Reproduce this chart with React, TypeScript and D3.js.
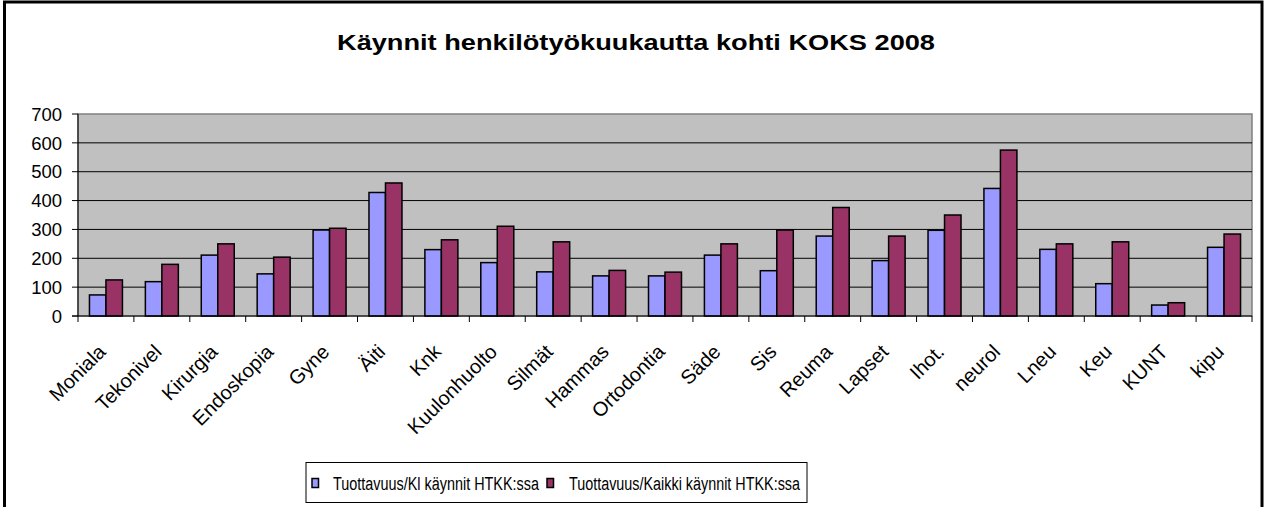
import React from "react";
import * as d3 from "d3";

const categories = ["Moniala","Tekonivel","Kirurgia","Endoskopia","Gyne","Äiti","Knk","Kuulonhuolto","Silmät","Hammas","Ortodontia","Säde","Sis","Reuma","Lapset","Ihot.","neurol","Lneu","Keu","KUNT","kipu"];
const klValues = [73,119,211,146,298,428,230,185,153,139,139,211,157,277,192,297,442,231,112,38,238];
const kaikkiValues = [125,179,250,204,304,461,264,311,257,158,152,250,298,376,277,350,575,250,257,46,284];
const seriesNames = ["Tuottavuus/Kl käynnit HTKK:ssa","Tuottavuus/Kaikki käynnit HTKK:ssa"];
const yTicks = [0,100,200,300,400,500,600,700];
const title = "Käynnit henkilötyökuukautta kohti KOKS 2008";

const colors = ["#9999FF", "#993366"];
const font = "Arial, 'Liberation Sans', sans-serif";

export default function App() {
  const W = 1266, H = 507;
  const left = 78, right = 1252, top = 114, bottom = 316;
  const x = d3.scaleBand<string>().domain(categories).range([left, right]);
  const y = d3.scaleLinear().domain([0, 700]).range([bottom, top]);
  const barW = x.bandwidth() * 0.295;
  const series = [klValues, kaikkiValues];
  const legendX = [312, 547];
  const legendTextX = [333, 569];
  const legendTextW = [206, 231];

  return (
    <svg width={W} height={H} style={{ position: "absolute", left: 0, top: 0 }}>
      <rect x={0} y={0} width={W} height={H} fill="#fff" />
      <rect x={4.5} y={2} width={1257.5} height={H + 10} fill="none" stroke="#000" strokeWidth={3} />
      <text x={337} y={49.5} fontFamily={font} fontWeight="bold" fontSize={22}
        textLength={598} lengthAdjust="spacingAndGlyphs">{title}</text>
      {/* plot area */}
      <rect x={left} y={top} width={right - left} height={bottom - top} fill="#C0C0C0" stroke="#808080" strokeWidth={1.5} />
      {yTicks.filter(t => t > 0 && t < 700).map(t => (
        <line key={t} x1={left} x2={right} y1={y(t)} y2={y(t)} stroke="#000" strokeWidth={1} />
      ))}
      {categories.map((c, i) => (
        <g key={c}>
          {series.map((s, j) => {
            const cx = x(c)! + x.bandwidth() / 2;
            const bx = cx - barW + j * barW;
            return (
              <rect key={j} x={bx} y={y(s[i])} width={barW} height={bottom - y(s[i])}
                fill={colors[j]} stroke="#000" strokeWidth={1.5} />
            );
          })}
        </g>
      ))}
      {/* axes */}
      <line x1={left} x2={left} y1={top} y2={bottom} stroke="#000" strokeWidth={1} />
      <line x1={left - 6} x2={right} y1={bottom} y2={bottom} stroke="#000" strokeWidth={1} />
      {yTicks.map(t => (
        <g key={t}>
          <line x1={left - 6} x2={left} y1={y(t)} y2={y(t)} stroke="#000" strokeWidth={1} />
          <text x={62} y={y(t)} dy="0.36em" textAnchor="end" fontFamily={font} fontSize={18.5}>{t}</text>
        </g>
      ))}
      {categories.map(c => (
        <line key={"t" + c} x1={x(c)!} x2={x(c)!} y1={bottom} y2={bottom + 6} stroke="#000" strokeWidth={1} />
      ))}
      <line x1={right} x2={right} y1={bottom} y2={bottom + 6} stroke="#000" strokeWidth={1} />
      {categories.map(c => {
        const cx = x(c)! + x.bandwidth() / 2 + 1;
        const ty = 353;
        return (
          <text key={"l" + c} x={cx} y={ty} textAnchor="end" fontFamily={font} fontSize={20}
            transform={`rotate(-45, ${cx}, ${ty})`}>{c}</text>
        );
      })}
      {/* legend */}
      <rect x={306} y={462.5} width={501} height={40} fill="#fff" stroke="#000" strokeWidth={1} />
      {seriesNames.map((n, j) => (
        <g key={n}>
          <rect x={legendX[j]} y={478.5} width={6.5} height={9} fill={colors[j]} stroke="#000" strokeWidth={1.5} />
          <text x={legendTextX[j]} y={490} fontFamily={font} fontSize={18}
            textLength={legendTextW[j]} lengthAdjust="spacingAndGlyphs">{n}</text>
        </g>
      ))}
    </svg>
  );
}
